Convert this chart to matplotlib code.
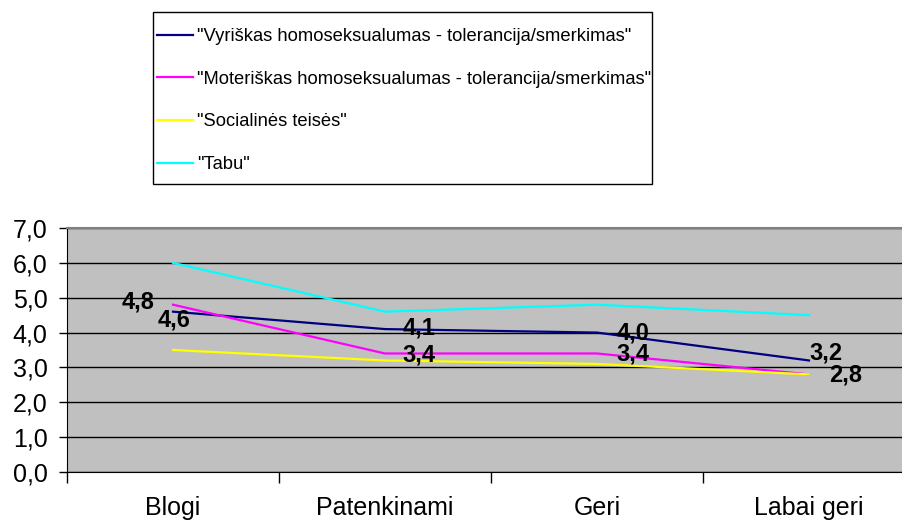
import matplotlib
matplotlib.use("Agg")
import matplotlib.pyplot as plt
from matplotlib.patches import Rectangle

categories = ["Blogi", "Patenkinami", "Geri", "Labai geri"]
series_names = ['"Vyriškas homoseksualumas - tolerancija/smerkimas"',
                '"Moteriškas homoseksualumas - tolerancija/smerkimas"',
                '"Socialinės teisės"',
                '"Tabu"']
vyriskas = [4.6, 4.1, 4.0, 3.2]
moteriskas = [4.8, 3.4, 3.4, 2.8]
socialines = [3.5, 3.2, 3.1, 2.8]
tabu = [6.0, 4.6, 4.8, 4.5]
yticks = [0, 1, 2, 3, 4, 5, 6, 7]

colors = ["#000080", "#FF00FF", "#FFFF00", "#00FFFF"]
base = "Liberation Sans"

W, H = 903, 522
fig = plt.figure(figsize=(W / 100, H / 100), dpi=100)
left, right, top, bottom = 67, 915, 228, 472
ax = fig.add_axes([left / W, 1 - bottom / H, (right - left) / W, (bottom - top) / H])
ax.set_facecolor("#C0C0C0")

x = list(range(len(categories)))
all_series = [vyriskas, moteriskas, socialines, tabu]
lines = []
for vals, c, n in zip(all_series, colors, series_names):
    ln, = ax.plot(x, vals, color=c, lw=1.6, label=n, zorder=3)
    lines.append(ln)

ax.set_xlim(-0.5, 3.5)
ax.set_ylim(0, 7)
ax.set_yticks(yticks)
ax.set_yticklabels([f"{v:.1f}".replace(".", ",") for v in yticks],
                   fontfamily=base, fontsize=18)
ax.yaxis.grid(True, color="black", lw=1.0, zorder=1)
ax.tick_params(axis="y", direction="out", length=6, width=1, pad=8, colors="black")

ax.set_xticks([-0.5, 0.5, 1.5, 2.5, 3.5])
ax.set_xticklabels([])
ax.tick_params(axis="x", which="major", direction="out", length=8, width=1)
ax.set_xticks(x, minor=True)
ax.set_xticklabels(categories, minor=True, fontfamily=base, fontsize=18)
ax.tick_params(axis="x", which="minor", length=0, pad=17)

ax.spines["top"].set_color("#808080")
ax.spines["top"].set_linewidth(1.5)
ax.spines["right"].set_visible(False)
ax.spines["left"].set_color("black")
ax.spines["bottom"].set_color("black")

# value labels (offsets in pixels)
off_v = [(1, -8.5), (34, 1), (36, 0), (17, 7)]
off_m = [(-35, 2.5), (34, -1.5), (36, -1), (37, -1)]
for vals, offs in ((vyriskas, off_v), (moteriskas, off_m)):
    for xi, v, o in zip(x, vals, offs):
        ax.annotate(f"{v:.1f}".replace(".", ","), (xi, v), xytext=o,
                    textcoords="offset pixels", ha="center", va="center",
                    fontfamily=base, fontweight="bold", fontsize=17,
                    color="black", zorder=5, annotation_clip=False)

# legend box
fig.patches.append(Rectangle((153 / W, 1 - 184 / H), (652 - 153) / W, (184 - 12) / H,
                             transform=fig.transFigure, facecolor="white",
                             edgecolor="black", lw=1.0, zorder=0))
leg = fig.legend(handles=lines, loc="upper left",
                 bbox_to_anchor=(157 / W, 1 - 28 / H),
                 prop={"family": base, "size": 13.2},
                 frameon=False, handlelength=1.95, handletextpad=0.25,
                 labelspacing=1.4, borderpad=0, borderaxespad=0)

fig.savefig("out.png", dpi=100)
